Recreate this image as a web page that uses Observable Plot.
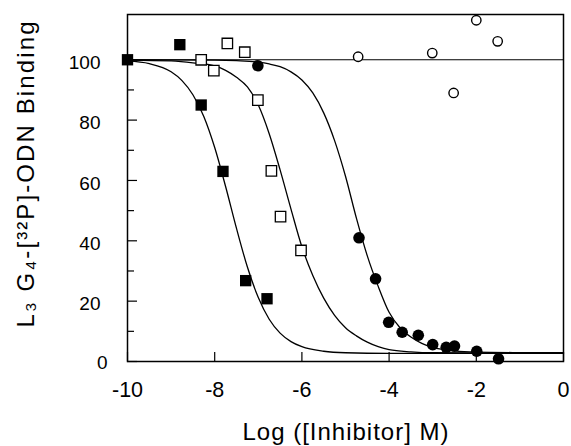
<!DOCTYPE html>
<html>
<head>
<meta charset="utf-8">
<script src="https://cdn.jsdelivr.net/npm/d3@7"></script>
<script src="https://cdn.jsdelivr.net/npm/@observablehq/plot@0.6"></script>
<style>
  html, body { margin: 0; padding: 0; background: #fff; }
</style>
</head>
<body>
<div id="chart"></div>
<script>
// ---- Data ----
const xTitle = "Log ([Inhibitor] M)";
const yTitle = "L\u2083 G\u2084-[\u00B3\u00B2P]-ODN Binding";

const xTickValues = [-10, -8, -6, -4, -2, 0];
const yTickValues = [0, 20, 40, 60, 80, 100];
const yMinorTickValues = [10, 30, 50, 70, 90];

// filled squares
const filledSquareLog = [-10, -8.8, -8.31, -7.81, -7.29, -6.8];
const filledSquareBinding = [100, 105, 85, 63, 26.8, 20.8];
// open squares
const openSquareLog = [-8.31, -8.02, -7.71, -7.31, -7.01, -6.7, -6.49, -6.02];
const openSquareBinding = [100, 96.4, 105.4, 102.5, 86.6, 63.2, 48, 36.8];
// filled circles
const filledCircleLog = [-7.01, -4.69, -4.31, -4.01, -3.7, -3.33, -3.0, -2.69, -2.5, -1.99, -1.49];
const filledCircleBinding = [98, 41, 27.4, 13, 9.7, 8.7, 5.6, 4.7, 5.1, 3.4, 0.9];
// open circles
const openCircleLog = [-4.71, -3.01, -2.52, -2.0, -1.51];
const openCircleBinding = [101, 102.2, 89, 113.1, 106.1];

// fitted curves
const curve1Log = [-10, -9.5, -9, -8.75, -8.5, -8.25, -8, -7.75, -7.5, -7.25, -7, -6.75, -6.5, -6.25, -6, -5.5, -5, -4, 0];
const curve1Binding = [99.6, 98.7, 96.0, 93.1, 88.4, 81.2, 70.9, 58.0, 44.1, 31.3, 21.2, 14.0, 9.4, 6.6, 4.9, 3.4, 2.9, 2.7, 2.7];
const curve2Log = [-10, -9, -8.5, -8, -7.75, -7.5, -7.25, -7, -6.75, -6.5, -6.25, -6, -5.75, -5.5, -5.25, -5, -4.75, -4.5, -4.25, -4, -3.5, -3, 0];
const curve2Binding = [99.9, 99.6, 99.0, 98.0, 96.5, 94.2, 91.0, 85.0, 75.5, 63.5, 50.5, 38.0, 28.5, 21.0, 15.3, 11.2, 8.5, 6.4, 4.9, 3.9, 3.2, 2.9, 2.7];
const curve3Log = [-10, -8, -7.5, -7, -6.75, -6.5, -6.25, -6, -5.75, -5.5, -5.25, -5, -4.75, -4.5, -4.25, -4, -3.75, -3.5, -3.25, -3, -2.5, -2, -1, 0];
const curve3Binding = [100, 99.9, 99.7, 99.2, 98.6, 97.7, 96.0, 93.3, 89.0, 82.4, 73.2, 61.4, 47.5, 35.0, 24.9, 16.3, 11.2, 8.1, 6.0, 4.7, 3.5, 3.1, 2.95, 2.9];
const flatLog = [-10, 0];
const flatBinding = [100, 100];

const pts = (xs, ys) => xs.map((x, i) => ({x, y: ys[i]}));

const fmt = d => String(d);

const chart = Plot.plot({
  width: 571,
  height: 446,
  marginLeft: 127,
  marginRight: 8,
  marginTop: 14,
  marginBottom: 85,
  x: {domain: [-10, 0]},
  y: {domain: [0, 115]},
  style: {fontFamily: "Arial, 'Liberation Sans', Helvetica, sans-serif", background: "#fff", color: "#000", overflow: "visible"},
  marks: [
    // tick marks (inside)
    Plot.gridY(yTickValues, {stroke: "#000", strokeOpacity: 1, strokeWidth: 1.2, insetRight: 426}),
    Plot.gridY(yMinorTickValues, {stroke: "#000", strokeOpacity: 1, strokeWidth: 1.2, insetRight: 429}),
    Plot.gridX(xTickValues, {stroke: "#000", strokeOpacity: 1, strokeWidth: 1.2, insetTop: 338}),
    // tick labels
    Plot.axisY(yTickValues.filter(d => d !== 0), {tickSize: 0, tickPadding: 27, fontSize: 19, dy: 3, tickFormat: fmt, label: null}),
    Plot.axisY([0], {tickSize: 0, tickPadding: 20, fontSize: 19, dy: 1, tickFormat: fmt, label: null}),
    Plot.axisX(xTickValues, {tickSize: 0, tickPadding: 20, fontSize: 21.5, tickFormat: fmt, label: null}),
    // fitted lines
    Plot.line(pts(flatLog, flatBinding), {x: "x", y: "y", stroke: "#000", strokeWidth: 1}),
    Plot.line(pts(curve1Log, curve1Binding), {x: "x", y: "y", stroke: "#000", strokeWidth: 1.3, curve: "monotone-x"}),
    Plot.line(pts(curve2Log, curve2Binding), {x: "x", y: "y", stroke: "#000", strokeWidth: 1.3, curve: "monotone-x"}),
    Plot.line(pts(curve3Log, curve3Binding), {x: "x", y: "y", stroke: "#000", strokeWidth: 1.3, curve: "monotone-x"}),
    // data points
    Plot.dot(pts(filledSquareLog, filledSquareBinding), {x: "x", y: "y", symbol: "square", r: 6.4, fill: "#000", stroke: "none"}),
    Plot.dot(pts(openSquareLog, openSquareBinding), {x: "x", y: "y", symbol: "square", r: 5.9, fill: "#fff", stroke: "#000", strokeWidth: 1.3}),
    Plot.dot(pts(filledCircleLog, filledCircleBinding), {x: "x", y: "y", symbol: "circle", r: 5.8, fill: "#000", stroke: "none"}),
    Plot.dot(pts(openCircleLog, openCircleBinding), {x: "x", y: "y", symbol: "circle", r: 4.7, fill: "#fff", stroke: "#000", strokeWidth: 1.4}),
    // frame
    Plot.frame({stroke: "#000", strokeWidth: 1.5}),
    // axis titles
    Plot.text([yTitle], {text: d => d, frameAnchor: "left", textAnchor: "middle", lineAnchor: "middle", rotate: -90, dx: -101.4, dy: -13.5, fontSize: 24, fill: "#000", ariaLabel: "ytitle"}),
    Plot.text([xTitle], {text: d => d, frameAnchor: "bottom", textAnchor: "middle", lineAnchor: "middle", dy: 70.6, fontSize: 24, fill: "#000", ariaLabel: "xtitle"})
  ]
});
// stretch the two axis titles to the lengths they have in the reference
d3.select(chart).selectAll("text").each(function () {
  if (this.textContent === yTitle) {
    this.setAttribute("textLength", 306);
    this.setAttribute("lengthAdjust", "spacing");
  } else if (this.textContent === xTitle) {
    this.setAttribute("textLength", 206);
    this.setAttribute("lengthAdjust", "spacing");
  }
});
document.getElementById("chart").appendChild(chart);
</script>
</body>
</html>
